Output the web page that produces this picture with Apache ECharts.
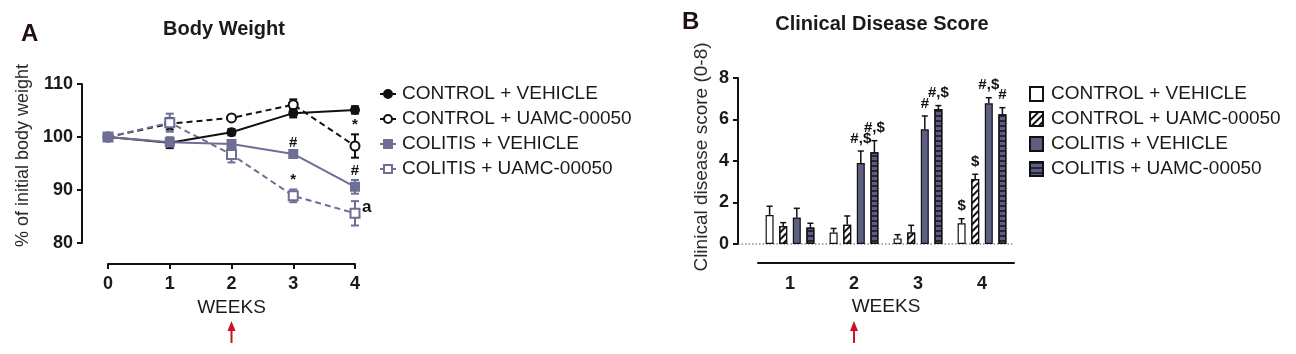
<!DOCTYPE html>
<html><head><meta charset="utf-8">
<script src="https://cdn.jsdelivr.net/npm/echarts@6/dist/echarts.min.js"></script>
<style>html,body{margin:0;padding:0;background:#fff}#c{width:1296px;height:354px}</style>
</head><body><div id="c"></div>
<script>
// ---------- DATA ----------
const groupNames = ['CONTROL + VEHICLE', 'CONTROL + UAMC-00050', 'COLITIS + VEHICLE', 'COLITIS + UAMC-00050'];
// Panel A: body weight (% of initial), weeks 0-4
const weeksA = [0, 1, 2, 3, 4];
const bwCtrlVeh   = [100, 98.9, 100.9, 104.5, 105.1];
const bwCtrlVehE  = [0, 1.0, 0.6, 0.8, 0.7];
const bwCtrlUamc  = [100, 102.5, 103.6, 106.1, 98.3];
const bwCtrlUamcE = [0, 1.1, 0.4, 1.0, 2.2];
const bwColVeh    = [100, 99.0, 98.7, 96.8, 90.6];
const bwColVehE   = [0, 0.8, 0.5, 0.3, 1.3];
const bwColUamc   = [100, 102.7, 96.7, 88.9, 85.6];
const bwColUamcE  = [0, 1.7, 1.5, 1.2, 2.3];
const yTicksA = [80, 90, 100, 110];
// significance marks panel A: series index, week, text, side
const annA = [
  { s: 1, w: 4, t: '*', side: 'top' },
  { s: 2, w: 3, t: '#', side: 'top' },
  { s: 2, w: 4, t: '#', side: 'top' },
  { s: 3, w: 3, t: '*', side: 'top' },
  { s: 3, w: 4, t: 'a', side: 'right' }
];
// Panel B: clinical disease score, weeks 1-4
const weeksB = ['1', '2', '3', '4'];
const csCtrlVeh   = [1.40, 0.55, 0.27, 1.00];
const csCtrlVehE  = [0.42, 0.20, 0.18, 0.22];
const csCtrlUamc  = [0.87, 0.93, 0.56, 3.13];
const csCtrlUamcE = [0.16, 0.42, 0.34, 0.23];
const csColVeh    = [1.28, 3.90, 5.53, 6.78];
const csColVehE   = [0.44, 0.58, 0.64, 0.27];
const csColUamc   = [0.79, 4.42, 6.50, 6.25];
const csColUamcE  = [0.21, 0.56, 0.17, 0.32];
const yTicksB = [0, 2, 4, 6, 8];
const annB = [
  { s: 2, w: 1, t: '#,$' }, { s: 3, w: 1, t: '#,$' },
  { s: 2, w: 2, t: '#' },   { s: 3, w: 2, t: '#,$' },
  { s: 0, w: 3, t: '$' },   { s: 1, w: 3, t: '$' },
  { s: 2, w: 3, t: '#,$' }, { s: 3, w: 3, t: '#' }
];
const arrowWeek = 2;

// ---------- STYLE / LAYOUT ----------
const FONT = '"Liberation Sans", Arial, Helvetica, sans-serif';
const BLACK = '#111111';
const PURPLE = '#6e6e96';
const BARPURPLE = '#5e5e82';
const gridA = { left: 108, top: 84, width: 247, height: 159 };
const gridB = { left: 758, top: 78, width: 256, height: 166 };
const yOffA = 26, xOffA = 21, yOffB = 20, xOffB = 19;
const BARW = 8, BARGAP = '70%';

const bwMeans = [bwCtrlVeh, bwCtrlUamc, bwColVeh, bwColUamc];
const bwErrs = [bwCtrlVehE, bwCtrlUamcE, bwColVehE, bwColUamcE];
const csMeans = [csCtrlVeh, csCtrlUamc, csColVeh, csColUamc];
const csErrs = [csCtrlVehE, csCtrlUamcE, csColVehE, csColUamcE];

const lineColors = [BLACK, BLACK, PURPLE, PURPLE];
const lineDash = ['solid', [6, 4], 'solid', [6, 4]];
const symbols = ['circle', 'circle', 'rect', 'rect'];
const symbolSizes = [8, 9, 8, 9];
const symbolFill = [BLACK, '#ffffff', PURPLE, '#ffffff'];

const chart = echarts.init(document.getElementById('c'), null, { renderer: 'canvas' });

function errBarA(color) {
  return function (params, api) {
    const x = api.value(0), m = api.value(1), e = api.value(2);
    if (!e) return null;
    const t = api.coord([x, m + e]), b = api.coord([x, m - e]);
    const hw = 4, st = { stroke: color, lineWidth: 2 };
    return { type: 'group', children: [
      { type: 'line', shape: { x1: t[0], y1: t[1], x2: b[0], y2: b[1] }, style: st },
      { type: 'line', shape: { x1: t[0] - hw, y1: t[1], x2: t[0] + hw, y2: t[1] }, style: st },
      { type: 'line', shape: { x1: b[0] - hw, y1: b[1], x2: b[0] + hw, y2: b[1] }, style: st }
    ] };
  };
}

const series = [];
// Panel A series
for (let s = 0; s < 4; s++) {
  series.push({
    type: 'custom', name: 'errA' + s, xAxisIndex: 0, yAxisIndex: 0,
    renderItem: errBarA(lineColors[s]), z: 2,
    data: weeksA.map((w, i) => [w, bwMeans[s][i], bwErrs[s][i]])
  });
}
for (let s = 0; s < 4; s++) {
  series.push({
    type: 'line', name: groupNames[s], xAxisIndex: 0, yAxisIndex: 0,
    data: weeksA.map((w, i) => [w, bwMeans[s][i]]),
    symbol: symbols[s], symbolSize: symbolSizes[s], showAllSymbol: true,
    lineStyle: { color: lineColors[s], width: 2, type: lineDash[s] },
    itemStyle: { color: symbolFill[s], borderColor: lineColors[s], borderWidth: 2 },
    z: s === 0 || s === 2 ? 4 : 3, animation: false
  });
}
series.push({
  type: 'custom', name: 'annA', xAxisIndex: 0, yAxisIndex: 0, z: 6,
  data: annA.map(a => [a.w, bwMeans[a.s][a.w] + (a.side === 'top' ? bwErrs[a.s][a.w] : 0)]),
  renderItem: function (params, api) {
    const a = annA[params.dataIndex];
    const p = api.coord([api.value(0), api.value(1)]);
    const top = a.side === 'top';
    return { type: 'text', x: top ? p[0] : p[0] + 7, y: top ? p[1] - 2 : p[1] - 6,
      style: { text: a.t, font: (a.t === 'a' ? 'bold 17px ' : 'bold 15px ') + FONT, fill: BLACK,
        align: top ? 'center' : 'left', verticalAlign: top ? 'bottom' : 'middle' } };
  }
});

// Panel B bars
const barColors = ['#ffffff', '#ffffff', BARPURPLE, BARPURPLE];
const decals = [
  'none',
  { symbol: 'rect', symbolSize: 1, dashArrayX: [1, 0], dashArrayY: [2, 3], rotation: -Math.PI / 4, color: '#111111' },
  'none',
  { symbol: 'rect', symbolSize: 1, dashArrayX: [1, 0], dashArrayY: [1.5, 2.2], rotation: 0, color: '#23233a' }
];
for (let s = 0; s < 4; s++) {
  const it = { color: barColors[s], borderColor: BLACK, borderWidth: 1.2 };
  if (decals[s] !== 'none') it.decal = decals[s];
  series.push({
    type: 'bar', name: groupNames[s] + ' ', xAxisIndex: 1, yAxisIndex: 1,
    data: csMeans[s], barWidth: BARW, barGap: BARGAP, itemStyle: it, animation: false, z: 2
  });
}
function barX(api, s, idx, val) {
  const lay = api.barLayout({ count: 4, barWidth: BARW, barGap: BARGAP });
  const p = api.coord([idx, val]);
  return [p[0] + lay[s].offsetCenter, p[1]];
}
for (let s = 0; s < 4; s++) {
  series.push({
    type: 'custom', name: 'errB' + s, xAxisIndex: 1, yAxisIndex: 1, z: 3,
    data: weeksB.map((w, i) => [i, csMeans[s][i], csErrs[s][i]]),
    renderItem: function (params, api) {
      const i = api.value(0), m = api.value(1), e = api.value(2);
      const b = barX(api, s, i, m), t = barX(api, s, i, m + e);
      const st = { stroke: BLACK, lineWidth: 1.5 };
      return { type: 'group', children: [
        { type: 'line', shape: { x1: b[0], y1: b[1], x2: t[0], y2: t[1] }, style: st },
        { type: 'line', shape: { x1: t[0] - 3, y1: t[1], x2: t[0] + 3, y2: t[1] }, style: st }
      ] };
    }
  });
}
series.push({
  type: 'custom', name: 'annB', xAxisIndex: 1, yAxisIndex: 1, z: 6,
  data: annB.map(a => [a.w, csMeans[a.s][a.w] + csErrs[a.s][a.w]]),
  renderItem: function (params, api) {
    const a = annB[params.dataIndex];
    const p = barX(api, a.s, api.value(0), api.value(1));
    return { type: 'text', x: p[0], y: p[1] - 5,
      style: { text: a.t, font: 'bold 15px ' + FONT, fill: BLACK, align: 'center', verticalAlign: 'bottom' } };
  }
});

const axisLineStyle = { color: BLACK, width: 2 };
const option = {
  animation: false,
  backgroundColor: '#ffffff',
  textStyle: { fontFamily: FONT },
  title: [
    { text: 'A', left: 16, top: 17, textStyle: { fontSize: 24, fontWeight: 'bold', color: '#221111', fontFamily: FONT } },
    { text: 'Body Weight', left: 219, top: 14, textAlign: 'center', textStyle: { fontSize: 20, fontWeight: 'bold', color: '#1a1a1a', fontFamily: FONT } },
    { text: 'B', left: 677, top: 5, textStyle: { fontSize: 24, fontWeight: 'bold', color: '#221111', fontFamily: FONT } },
    { text: 'Clinical Disease Score', left: 877, top: 9, textAlign: 'center', textStyle: { fontSize: 20, fontWeight: 'bold', color: '#1a1a1a', fontFamily: FONT } }
  ],
  legend: [
    {
      data: groupNames, orient: 'vertical', left: 374, top: 79, itemWidth: 16, itemHeight: 10, itemGap: 5,
      textStyle: { fontSize: 19, color: '#1a1a1a', fontFamily: FONT, padding: [0, 0, 0, 1], lineHeight: 20 },
      selectedMode: false
    },
    {
      data: groupNames.map(n => n + ' '), orient: 'vertical', left: 1024, top: 79, itemWidth: 13, itemHeight: 14, itemGap: 5,
      icon: 'rect',
      formatter: n => n.trim(),
      textStyle: { fontSize: 19, color: '#1a1a1a', fontFamily: FONT, padding: [0, 0, 0, 3], lineHeight: 20 },
      selectedMode: false
    }
  ],
  grid: [
    Object.assign({ containLabel: false }, gridA),
    Object.assign({ containLabel: false }, gridB)
  ],
  xAxis: [
    {
      gridIndex: 0, type: 'value', min: 0, max: 4, interval: 1, offset: xOffA,
      axisLine: { show: true, onZero: false, lineStyle: axisLineStyle },
      axisTick: { show: true, length: 5, lineStyle: axisLineStyle },
      axisLabel: { fontSize: 18, fontWeight: 'bold', color: '#1a1a1a', margin: 11, fontFamily: FONT },
      splitLine: { show: false },
      name: 'WEEKS', nameLocation: 'middle', nameGap: 34,
      nameTextStyle: { fontSize: 19, color: '#1a1a1a', fontFamily: FONT }
    },
    {
      gridIndex: 1, type: 'category', data: weeksB, offset: xOffB,
      axisLine: { show: true, onZero: false, lineStyle: axisLineStyle },
      axisTick: { show: false },
      axisLabel: { fontSize: 18, fontWeight: 'bold', color: '#1a1a1a', margin: 12, fontFamily: FONT },
      name: 'WEEKS', nameLocation: 'middle', nameGap: 34,
      nameTextStyle: { fontSize: 19, color: '#1a1a1a', fontFamily: FONT }
    }
  ],
  yAxis: [
    {
      gridIndex: 0, type: 'value', min: yTicksA[0], max: yTicksA[yTicksA.length - 1], interval: 10, offset: yOffA,
      axisLine: { show: true, onZero: false, lineStyle: axisLineStyle },
      axisTick: { show: true, length: 5, lineStyle: axisLineStyle },
      axisLabel: { fontSize: 18, fontWeight: 'bold', color: '#1a1a1a', margin: 9, fontFamily: FONT },
      splitLine: { show: false },
      name: '% of initial body weight', nameLocation: 'middle', nameGap: 50,
      nameTextStyle: { fontSize: 18, color: '#2a2a2a', fontFamily: FONT, padding: [0, 0, 0, 16] }
    },
    {
      gridIndex: 1, type: 'value', min: yTicksB[0], max: yTicksB[yTicksB.length - 1], interval: 2, offset: yOffB,
      axisLine: { show: true, onZero: false, lineStyle: axisLineStyle },
      axisTick: { show: true, length: 5, lineStyle: axisLineStyle },
      axisLabel: { fontSize: 18, fontWeight: 'bold', color: '#1a1a1a', margin: 9, fontFamily: FONT },
      splitLine: { show: false },
      name: 'Clinical disease score (0-8)', nameLocation: 'middle', nameGap: 27,
      nameTextStyle: { fontSize: 19, color: '#2a2a2a', fontFamily: FONT, padding: [0, 0, 0, 8] }
    }
  ],
  series: series
};
chart.setOption(option);

// dotted zero line for panel B and red arrows under week 2 (positions through the library's scales)
const y0 = chart.convertToPixel({ yAxisIndex: 1 }, 0);
const ax = chart.convertToPixel({ xAxisIndex: 0 }, arrowWeek);
const bx = chart.convertToPixel({ xAxisIndex: 1 }, String(arrowWeek));
function arrow(x) {
  return { type: 'group', children: [
    { type: 'line', shape: { x1: x, y1: 343, x2: x, y2: 328 }, style: { stroke: '#c8141e', lineWidth: 2 } },
    { type: 'polygon', shape: { points: [[x - 4, 331], [x + 4, 331], [x, 321]] }, style: { fill: '#c8141e' } }
  ] };
}
chart.setOption({
  graphic: [
    { type: 'line', z: 1, shape: { x1: gridB.left - yOffB, y1: y0, x2: gridB.left + gridB.width, y2: y0 },
      style: { stroke: '#555555', lineWidth: 1, lineDash: [1.5, 2] } },
    arrow(ax), arrow(bx)
  ]
});
</script></body></html>
